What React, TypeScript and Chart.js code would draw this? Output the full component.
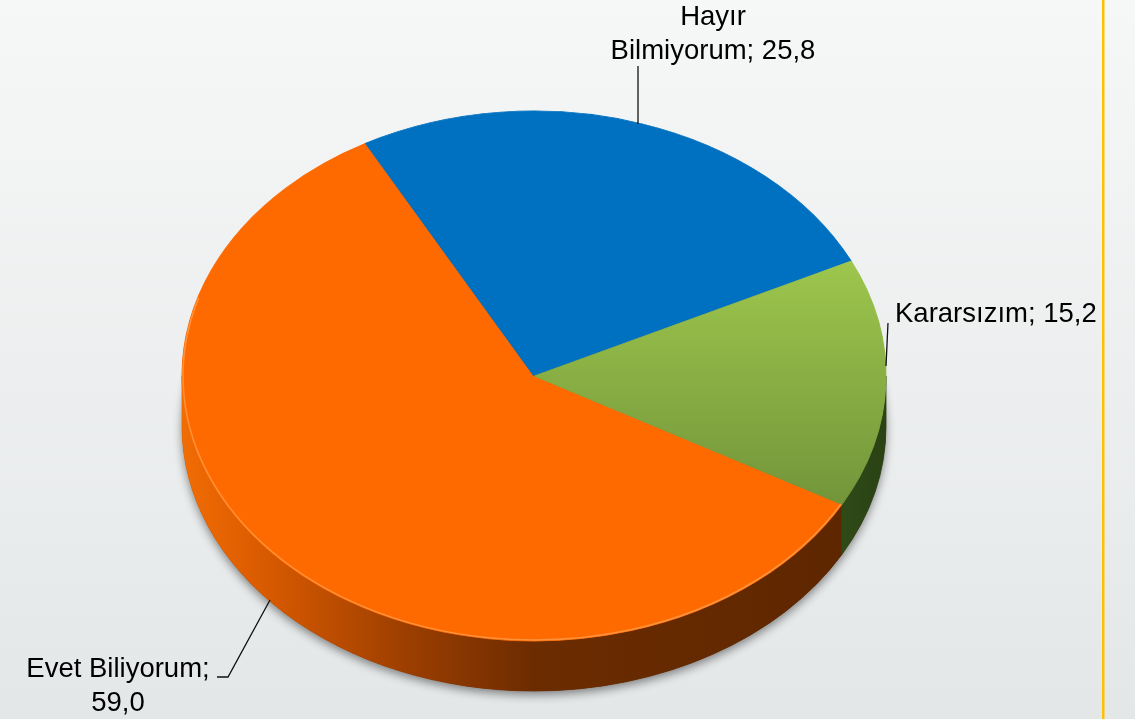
import React, { useEffect, useRef } from 'react';
import { Chart, registerables } from 'chart.js';

Chart.register(...registerables);

// ---- data ----
const categories = ['Evet Biliyorum', 'Hayır Bilmiyorum', 'Kararsızım'];
const values = [59.0, 25.8, 15.2];
const valueLabels = ['59,0', '25,8', '15,2'];
const lineBreakAfterWord = [2, 1, 0]; // 0 = single line

// ---- style / layout ----
const W = 1135;
const H = 719;
const CX = 534;
const CY = 376;
const RX = 352;
const RY = 265;
const DEPTH = 50;
const ROTATION = 119;
const FONT = '27.5px "Liberation Sans", Arial, Helvetica, sans-serif';
const topColors = ['#ff6a00', '#0070c0', '#94bf47'];

type LabelLayout = { x: number; y: number; align: CanvasTextAlign; leader: number[][] };
const labelLayout: LabelLayout[] = [
  { x: 118, y: 677, align: 'center', leader: [[217, 677], [228, 677], [270, 600]] },
  { x: 713, y: 25, align: 'center', leader: [[638, 66], [638, 124]] },
  { x: 895, y: 322, align: 'left', leader: [[888, 323], [886, 366]] },
];

function labelLines(i: number): string[] {
  const words = `${categories[i]}; ${valueLabels[i]}`.split(' ');
  const b = lineBreakAfterWord[i];
  if (!b) return [words.join(' ')];
  return [words.slice(0, b).join(' '), words.slice(b).join(' ')];
}

function sideFill(ctx: CanvasRenderingContext2D, i: number) {
  const g = ctx.createLinearGradient(CX - RX, 0, CX + RX, 0);
  if (i === 2) {
    g.addColorStop(0, '#4a6e26');
    g.addColorStop(0.8, '#3a5a1e');
    g.addColorStop(1, '#2a4214');
  } else if (i === 1) {
    g.addColorStop(0, '#00508c');
    g.addColorStop(1, '#002c50');
  } else {
    g.addColorStop(0, '#f26c04');
    g.addColorStop(0.12, '#d85a00');
    g.addColorStop(0.32, '#9c3e00');
    g.addColorStop(0.5, '#6c2c00');
    g.addColorStop(1, '#5c2600');
  }
  return g;
}

const pie3d = {
  id: 'pie3d',
  beforeDraw(chart: any) {
    const ctx: CanvasRenderingContext2D = chart.ctx;
    ctx.save();
    const g = ctx.createLinearGradient(0, 0, 0, H);
    g.addColorStop(0, '#f6f7f7');
    g.addColorStop(1, '#e4e7e8');
    ctx.fillStyle = g;
    ctx.fillRect(0, 0, W, H);
    ctx.fillStyle = '#ffc000';
    ctx.fillRect(1102, 0, 2.5, H);
    ctx.restore();
  },
  beforeDatasetsDraw(chart: any) {
    const ctx: CanvasRenderingContext2D = chart.ctx;
    const meta = chart.getDatasetMeta(0);
    // drop shadow
    ctx.save();
    ctx.shadowColor = 'rgba(0,0,0,0.45)';
    ctx.shadowBlur = 10;
    ctx.shadowOffsetY = 4;
    ctx.beginPath();
    ctx.ellipse(CX, CY + DEPTH, RX, RY, 0, 0, Math.PI * 2);
    ctx.fillStyle = '#5c2600';
    ctx.fill();
    ctx.restore();
    // sides
    meta.data.forEach((arc: any, i: number) => {
      const s = arc.startAngle;
      const e = arc.endAngle;
      for (let k = -2; k <= 2; k++) {
        const lo = Math.max(s, Math.PI * 2 * k);
        const hi = Math.min(e, Math.PI * 2 * k + Math.PI);
        if (hi > lo) {
          ctx.save();
          ctx.beginPath();
          ctx.ellipse(CX, CY, RX, RY, 0, lo, hi, false);
          ctx.ellipse(CX, CY + DEPTH, RX, RY, 0, hi, lo, true);
          ctx.closePath();
          ctx.fillStyle = sideFill(ctx, i);
          ctx.fill();
          ctx.strokeStyle = sideFill(ctx, i);
          ctx.lineWidth = 0.8;
          ctx.stroke();
          ctx.restore();
        }
      }
    });
    // squash the pie into an ellipse
    const a = meta.data[0];
    const r = a.outerRadius;
    ctx.save();
    ctx.translate(CX, CY);
    ctx.scale(RX / r, RY / r);
    ctx.translate(-a.x, -a.y);
  },
  afterDatasetsDraw(chart: any) {
    const ctx: CanvasRenderingContext2D = chart.ctx;
    ctx.restore();
    const meta = chart.getDatasetMeta(0);
    // rim highlight on the front edge
    meta.data.forEach((arc: any, i: number) => {
      if (i !== 0) return;
      const s = arc.startAngle;
      const e = arc.endAngle;
      for (let k = -2; k <= 2; k++) {
        const lo = Math.max(s, Math.PI * 2 * k - 0.3);
        const hi = Math.min(e, Math.PI * 2 * k + Math.PI + 0.3);
        if (hi > lo) {
          ctx.save();
          ctx.beginPath();
          ctx.ellipse(CX, CY, RX - 1, RY - 1, 0, lo, hi, false);
          ctx.strokeStyle = 'rgba(255,160,80,0.75)';
          ctx.lineWidth = 1.5;
          ctx.stroke();
          ctx.restore();
        }
      }
    });
    // labels + leader lines
    ctx.save();
    ctx.font = FONT;
    ctx.fillStyle = '#000';
    ctx.textBaseline = 'alphabetic';
    labelLayout.forEach((L, i) => {
      const lines = labelLines(i);
      ctx.textAlign = L.align;
      lines.forEach((t, j) => ctx.fillText(t, L.x, L.y + j * 34));
      ctx.beginPath();
      L.leader.forEach((p, j) => (j === 0 ? ctx.moveTo(p[0], p[1]) : ctx.lineTo(p[0], p[1])));
      ctx.strokeStyle = '#111';
      ctx.lineWidth = 1.3;
      ctx.stroke();
    });
    ctx.restore();
  },
};

function topColor(c: any) {
  const i = c.dataIndex;
  if (i === 2 && c.chart.chartArea) {
    const area = c.chart.chartArea;
    const g = c.chart.ctx.createLinearGradient(0, area.top, 0, area.bottom);
    g.addColorStop(0, '#b0d65c');
    g.addColorStop(0.25, '#a0ca4e');
    g.addColorStop(0.75, '#72943a');
    g.addColorStop(1, '#5e7e2e');
    return g;
  }
  return topColors[i];
}

export default function App() {
  const ref = useRef<HTMLCanvasElement | null>(null);
  useEffect(() => {
    if (!ref.current) return;
    const chart = new Chart(ref.current, {
      type: 'pie',
      data: {
        labels: categories,
        datasets: [
          {
            data: values,
            backgroundColor: topColor as any,
            borderColor: topColor as any,
            borderWidth: 1,
            clip: false as any,
          },
        ],
      },
      options: {
        animation: false,
        responsive: false,
        rotation: ROTATION,
        layout: { padding: { left: 200, right: 200, top: 10, bottom: 10 } },
        plugins: {
          legend: { display: false },
          tooltip: { enabled: false },
        },
        events: [],
      },
      plugins: [pie3d as any],
    });
    return () => chart.destroy();
  }, []);
  return (
    <div style={{ position: 'fixed', left: 0, top: 0, width: W, height: H }}>
      <canvas ref={ref} width={W} height={H} style={{ display: 'block', width: W, height: H }} />
    </div>
  );
}
